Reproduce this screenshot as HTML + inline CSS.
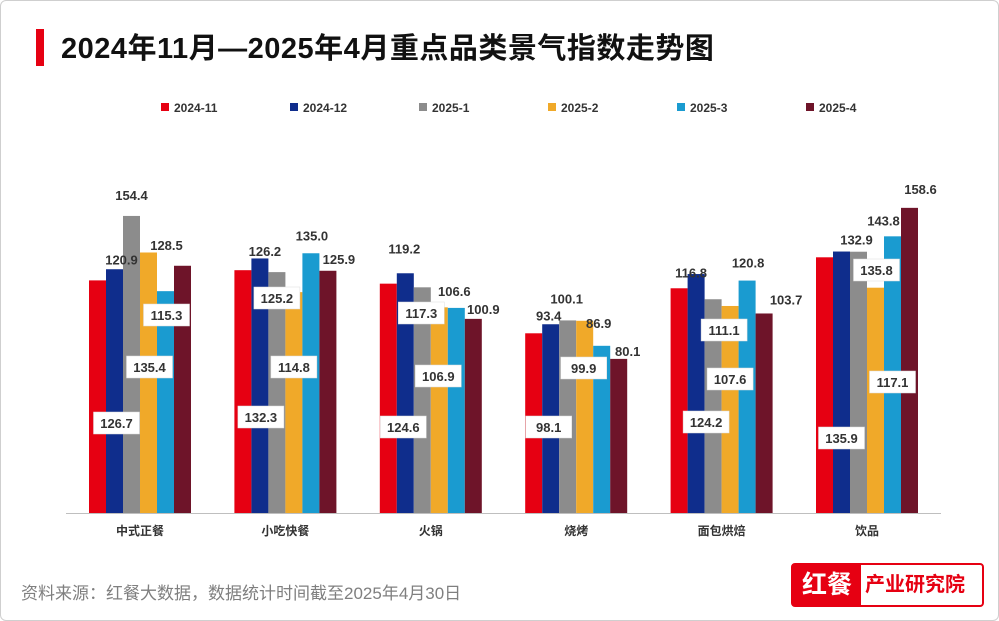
<!DOCTYPE html>
<html><head><meta charset="utf-8">
<style>
body{margin:0;background:#fff;font-family:"Liberation Sans","Noto Sans CJK SC",sans-serif;}
#wrap{position:relative;width:997px;height:619px;border:1px solid #cfcfcf;border-radius:6px;overflow:hidden;}
#title{position:absolute;left:60px;top:24px;font-size:29px;font-weight:bold;color:#111;letter-spacing:0.5px;}
#tbar{position:absolute;left:35px;top:28px;width:8px;height:37px;background:#e60012;}
#src{position:absolute;left:20px;top:578px;font-size:17px;color:#7f7f7f;}
#logo{position:absolute;left:790px;top:562px;width:193px;height:44px;border:2px solid #e60012;border-radius:4px;background:#fff;box-sizing:border-box;}
#logo .l{position:absolute;left:0;top:0;width:68px;height:40px;background:#e60012;color:#fff;font-size:25px;font-weight:bold;line-height:40px;text-align:center;}
#logo .r{position:absolute;left:72px;top:0;height:40px;line-height:40px;color:#e60012;font-size:20px;font-weight:bold;}
</style></head><body>
<div id="wrap">
<div id="tbar"></div>
<div id="title">2024年11月—2025年4月重点品类景气指数走势图</div>
<svg id="chart" width="999" height="560" style="position:absolute;left:0;top:0"></svg>
<div id="src">资料来源：红餐大数据，数据统计时间截至2025年4月30日</div>
<div id="logo"><div class="l">红餐</div><div class="r">产业研究院</div></div>
</div>
<script>
const categories=["中式正餐","小吃快餐","火锅","烧烤","面包烘焙","饮品"];
const seriesNames=["2024-11","2024-12","2025-1","2025-2","2025-3","2025-4"];
const s2024_11=[120.9,126.2,119.2,93.4,116.8,132.9];
const s2024_12=[126.7,132.3,124.6,98.1,124.2,135.9];
const s2025_1=[154.4,125.2,117.3,100.1,111.1,135.8];
const s2025_2=[135.4,114.8,106.9,99.9,107.6,117.1];
const s2025_3=[115.3,135.0,106.6,86.9,120.8,143.8];
const s2025_4=[128.5,125.9,100.9,80.1,103.7,158.6];
const series=[s2024_11,s2024_12,s2025_1,s2025_2,s2025_3,s2025_4];
// label layout (style only): boxed flag, horizontal nudge, vertical offset (above: from bar top; boxed: absolute y)
const boxed=[[0,0,0,0,0,0],[1,1,1,1,1,1],[0,1,1,0,1,1],[1,1,1,1,1,1],[1,0,0,0,0,0],[0,0,0,0,0,0]];
const nudgeX=[[24,22,16,15,12,32],[2,1,-2,-2,10,0],[0,0,-1,-1,11,18],[1,0,-1,-1,0,17],[1,1,-2,-3,1,-9],[-16,11,10,9,22,11]];
const nudgeY=[[-21,-19,-35,-18,-16,-18],[422,416,426,426,421,437],[-21,297,312,-22,329,269],[366,366,375,367,378,381],[314,-18,-17,-23,-18,-16],[-21,-12,-10,-8,-14,-19]];
const colors=["#e60012","#0f2d8c","#8c8c8c","#f0a929","#1a9bd0","#6e1429"];
const svg=document.getElementById('chart');const NS="http://www.w3.org/2000/svg";
const base=512,k=1.924,g0=139,gs=145.4,bw=17;
const y=v=>base-v*k;
const x=(c,s)=>g0+c*gs+(s-3)*bw;
function el(t,a,p){const e=document.createElementNS(NS,t);for(const n in a)e.setAttribute(n,a[n]);(p||svg).appendChild(e);return e;}
seriesNames.forEach((n,i)=>{const lx=160+i*129;
const r=el('rect',{x:lx,y:102,width:8,height:8,fill:colors[i]});


const t=el('text',{x:lx+13,y:111,'font-size':12,'font-weight':'bold',fill:'#333'});t.textContent=n;

});
const ax=el('line',{x1:65,x2:940,y1:base+0.5,y2:base+0.5,stroke:'#bfbfbf','stroke-width':1});


categories.forEach((c,ci)=>{const t=el('text',{x:g0+ci*gs,y:534,'font-size':12,'font-weight':'bold','text-anchor':'middle',fill:'#333'});t.textContent=c;

});
series.forEach((arr,si)=>arr.forEach((v,ci)=>{
const r=el('rect',{x:x(ci,si),y:y(v),width:bw,height:v*k,fill:colors[si]});

}));
series.forEach((arr,si)=>arr.forEach((v,ci)=>{
const cx=x(ci,si)+bw/2+nudgeX[si][ci];
let cy;
if(boxed[si][ci]){cy=nudgeY[si][ci]+(y(v)-y(v));
const r=el('rect',{x:cx-23,y:cy-11,width:46,height:22,fill:'#fff',stroke:'#ddd','stroke-width':0.5});

}
else cy=y(v)+nudgeY[si][ci];
const t=el('text',{x:cx,y:cy+5,'font-size':13,'font-weight':'bold','text-anchor':'middle',fill:'#333'});t.textContent=v.toFixed(1);

}));
</script>
</body></html>
